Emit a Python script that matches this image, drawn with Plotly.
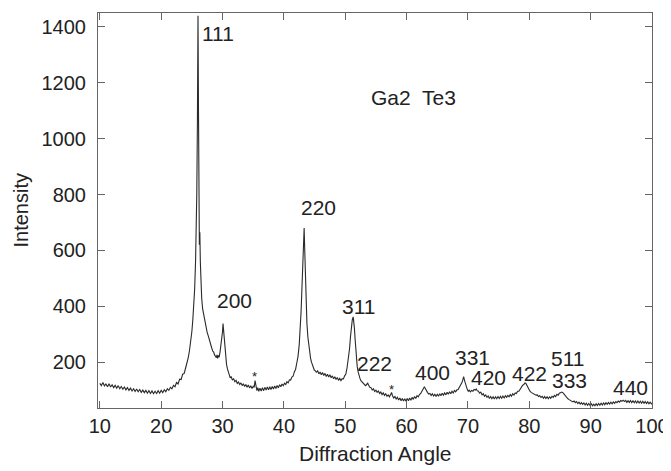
import plotly.graph_objects as go

# Diffraction angle (2-theta)
angle = [
    10, 10.25, 10.5, 10.75, 11, 11.25, 11.5, 11.75, 12, 12.25,
    12.5, 12.75, 13, 13.25, 13.5, 13.75, 14, 14.25, 14.5, 14.75,
    15, 15.25, 15.5, 15.75, 16, 16.25, 16.5, 16.75, 17, 17.25,
    17.5, 17.75, 18, 18.25, 18.5, 18.75, 19, 19.25, 19.5, 19.75,
    20, 20.25, 20.5, 20.75, 21, 21.25, 21.5, 21.75, 22,
    22.25, 22.5, 22.75, 23, 23.25, 23.5, 23.75, 24, 24.2, 24.4,
    24.6, 24.8, 25.0, 25.15, 25.3, 25.45, 25.6, 25.7, 25.8, 25.9,
    26.0, 26.08, 26.15, 26.22, 26.3, 26.38, 26.45, 26.6, 26.75, 26.9,
    27.05, 27.2, 27.35, 27.5, 27.65, 27.8, 27.95, 28.1, 28.25, 28.4,
    28.55, 28.7, 28.85, 29.0, 29.1, 29.2, 29.3, 29.45, 29.6, 29.75,
    29.9, 30.0, 30.08, 30.15, 30.25, 30.35, 30.5, 30.65, 30.8, 30.95,
    31.1, 31.25, 31.4, 31.6, 31.8, 32.0, 32.2, 32.4, 32.6, 32.8,
    33.0, 33.2, 33.4, 33.6, 33.8, 34.0, 34.2, 34.4, 34.6, 34.8,
    35.0, 35.15, 35.3, 35.45, 35.6, 35.75, 35.9, 36.1, 36.3, 36.5,
    36.7, 36.9, 37.1, 37.3, 37.5, 37.7, 37.9, 38.1, 38.3, 38.5,
    38.7, 38.9, 39.1, 39.3, 39.5, 39.7, 39.9, 40.1, 40.3, 40.5,
    40.7, 40.9, 41.1, 41.3, 41.5, 41.7, 41.9, 42.1, 42.3, 42.5,
    42.65, 42.8, 42.95, 43.1, 43.2, 43.3, 43.4, 43.5, 43.6, 43.75,
    43.9, 44.05, 44.2, 44.35, 44.5, 44.65, 44.8, 44.95, 45.1, 45.3,
    45.5, 45.7, 45.9, 46.1, 46.3, 46.5, 46.7, 46.9, 47.1, 47.3,
    47.5, 47.7, 47.9, 48.1, 48.3, 48.5, 48.7, 48.9, 49.1, 49.3,
    49.5, 49.7, 49.9, 50.1, 50.3, 50.5, 50.7, 50.85, 51.0, 51.15,
    51.3, 51.4, 51.5, 51.6, 51.7, 51.8, 51.95, 52.1, 52.25, 52.4,
    52.55, 52.7, 52.85, 53.0, 53.15, 53.3, 53.5, 53.65, 53.8, 54.0,
    54.2, 54.4, 54.6, 54.8, 55.0, 55.2, 55.4, 55.6, 55.8, 56.0,
    56.2, 56.4, 56.6, 56.8, 57.0, 57.2, 57.4, 57.55, 57.7, 57.9,
    58.1, 58.3, 58.5, 58.7, 58.9, 59.1, 59.3, 59.5, 59.7, 59.9,
    60.1, 60.3, 60.5, 60.7, 60.9, 61.1, 61.3, 61.5, 61.7, 61.9,
    62.1, 62.3, 62.5, 62.7, 62.9, 63.05, 63.2, 63.4, 63.6, 63.8,
    64.0, 64.2, 64.4, 64.6, 64.8, 65.0, 65.2, 65.4, 65.6, 65.8,
    66.0, 66.2, 66.4, 66.6, 66.8, 67.0, 67.2, 67.4, 67.6, 67.8,
    68.0, 68.2, 68.4, 68.6, 68.8, 69.0, 69.15, 69.3, 69.45, 69.6,
    69.75, 69.9, 70.05, 70.2, 70.4, 70.6, 70.8, 71.0, 71.2, 71.35,
    71.5, 71.7, 71.9, 72.1, 72.3, 72.5, 72.7, 72.9, 73.1, 73.3,
    73.5, 73.7, 73.9, 74.1, 74.3, 74.5, 74.7, 74.9, 75.1, 75.3,
    75.5, 75.7, 75.9, 76.1, 76.3, 76.5, 76.7, 76.9, 77.1, 77.3,
    77.5, 77.7, 77.9, 78.1, 78.3, 78.5, 78.7, 78.9, 79.1, 79.3,
    79.45, 79.6, 79.75, 79.9, 80.1, 80.3, 80.5, 80.7, 80.9, 81.1,
    81.3, 81.5, 81.7, 81.9, 82.1, 82.3, 82.5, 82.7, 82.9, 83.1,
    83.3, 83.5, 83.7, 83.9, 84.1, 84.3, 84.5, 84.7, 84.9, 85.1,
    85.3, 85.5, 85.7, 85.9, 86.1, 86.3, 86.5, 86.7, 86.9, 87.1,
    87.3, 87.5, 87.7, 87.9, 88.1, 88.3, 88.5, 88.7, 88.9, 89.1,
    89.3, 89.5, 89.7, 89.9, 90.1, 90.3, 90.5, 90.7, 90.9, 91.1,
    91.3, 91.5, 91.7, 91.9, 92.1, 92.3, 92.5, 92.7, 92.9, 93.1,
    93.3, 93.5, 93.7, 93.9, 94.1, 94.3, 94.5, 94.7, 94.9, 95.1,
    95.3, 95.5, 95.7, 95.9, 96.1, 96.3, 96.5, 96.7, 96.9, 97.1,
    97.3, 97.5, 97.7, 97.9, 98.1, 98.3, 98.5, 98.7, 98.9, 99.1,
    99.3, 99.5, 99.7, 99.9, 100,
]

# Intensity (same order as angle)
intensity = [
    124, 116, 127, 115, 122, 112, 123, 111, 119, 109,
    117, 107, 116, 105, 113, 103, 111, 101, 109, 99,
    107, 97, 105, 95, 104, 94, 102, 92, 100, 91,
    99, 89, 98, 88, 97, 87, 96, 88, 98, 89,
    99, 91, 101, 94, 105, 99, 110, 105, 117,
    112, 127, 122, 139, 138, 157, 160, 181, 194, 215,
    240, 270, 310, 350, 400, 460, 560, 650, 800, 1050,
    1440, 1100, 800, 620, 665, 560, 500, 430, 392, 375,
    350, 332, 318, 306, 296, 282, 270, 258, 250, 240,
    236, 226, 222, 216, 226, 214, 224, 218, 238, 260,
    290, 310, 338, 320, 290, 250, 212, 192, 176, 162,
    156, 144, 149, 136, 141, 130, 135, 124, 129, 120,
    126, 116, 123, 113, 120, 110, 118, 108, 116, 106,
    114, 110, 134, 120, 98, 109, 96, 107, 97, 109,
    98, 110, 100, 111, 101, 112, 102, 113, 104, 115,
    106, 117, 108, 119, 112, 122, 116, 125, 120, 130,
    126, 137, 136, 147, 150, 165, 174, 197, 220, 263,
    310, 380, 470, 580, 640, 680, 600, 500, 420, 340,
    292, 262, 236, 214, 200, 188, 182, 172, 170, 164,
    169, 158, 165, 155, 163, 152, 160, 149, 157, 147,
    155, 144, 151, 141, 148, 138, 145, 135, 142, 134,
    141, 140, 151, 158, 181, 208, 248, 290, 330, 352,
    362, 345, 320, 285, 245, 212, 185, 165, 150, 142,
    134, 130, 124, 122, 118, 116, 120, 126, 118, 110,
    109, 100, 105, 95, 100, 92, 97, 88, 93, 84,
    90, 81, 87, 78, 83, 76, 84, 92, 80, 72,
    77, 68, 74, 65, 72, 62, 70, 61, 69, 60,
    70, 62, 72, 64, 74, 67, 77, 70, 80, 76,
    84, 88, 96, 104, 112, 106, 98, 92, 86, 88,
    81, 87, 79, 85, 77, 85, 78, 87, 80, 89,
    82, 90, 83, 92, 85, 94, 87, 96, 90, 99,
    94, 101, 102, 109, 114, 126, 136, 148, 134, 120,
    108, 102, 96, 100, 94, 99, 96, 102, 100, 104,
    98, 96, 89, 93, 83, 87, 78, 83, 74, 79,
    70, 77, 69, 76, 68, 76, 69, 77, 70, 78,
    71, 79, 72, 80, 74, 81, 76, 84, 78, 87,
    82, 90, 88, 96, 96, 105, 108, 117, 120, 126,
    124, 116, 108, 100, 96, 92, 90, 86, 86, 82,
    83, 77, 80, 74, 78, 71, 77, 70, 76, 69,
    76, 71, 78, 74, 81, 77, 85, 82, 89, 90,
    93, 90, 84, 78, 74, 69, 66, 63, 62, 58,
    61, 55, 59, 52, 57, 50, 55, 49, 54, 47,
    53, 46, 52, 45, 51, 44, 50, 44, 51, 45,
    52, 46, 53, 47, 54, 48, 55, 49, 56, 50,
    57, 51, 58, 53, 59, 55, 61, 57, 63, 60,
    64, 59, 63, 56, 62, 56, 63, 55, 62, 55,
    61, 54, 61, 54, 60, 53, 60, 53, 59, 52,
    58, 51, 57, 51, 54,
]

# Peak labels (Miller indices), impurity markers and compound name
label_text = ["111", "200", "220", "311", "222", "400", "331", "420", "422", "511", "333", "440", "*", "*", "Ga2  Te3"]
label_x = [29.3, 32.0, 45.6, 52.1, 54.7, 64.2, 70.8, 73.3, 80.1, 86.3, 86.6, 96.5, 35.2, 57.5, 61.2]
label_y = [1377, 421, 754, 400, 196, 164, 218, 146, 161, 214, 136, 111, 150, 104, 1148]

x_ticks = [10, 20, 30, 40, 50, 60, 70, 80, 90, 100]
y_ticks = [200, 400, 600, 800, 1000, 1200, 1400]
x_title = "Diffraction Angle"
y_title = "Intensity"

FONT = "Liberation Sans, Arial, sans-serif"
TXT = "#222"

fig = go.Figure()
fig.add_trace(go.Scatter(x=angle, y=intensity, mode="lines",
                         line=dict(color="#2a2a2a", width=1.1), showlegend=False))

for t, xv, yv in zip(label_text, label_x, label_y):
    fig.add_annotation(x=xv, y=yv, text=t, showarrow=False,
                       font=dict(family=FONT, size=21 if t != "*" else 13, color=TXT),
                       xanchor="center", yanchor="middle")

# axis titles as paper annotations for exact placement
fig.add_annotation(xref="paper", yref="paper", x=0.5, y=0, yshift=-45, text=x_title,
                   showarrow=False, font=dict(family=FONT, size=21, color=TXT),
                   xanchor="center", yanchor="middle")
fig.add_annotation(xref="paper", yref="paper", x=0, y=0.5, xshift=-78, text=y_title,
                   textangle=-90, showarrow=False, font=dict(family=FONT, size=20, color=TXT),
                   xanchor="center", yanchor="middle")

axis_common = dict(showline=True, linecolor="#666", linewidth=1, mirror="ticks",
                   ticks="inside", ticklen=7, tickcolor="#666", showgrid=False, zeroline=False,
                   automargin=False, tickfont=dict(family=FONT, size=20, color=TXT))

fig.update_xaxes(range=[9.7, 100], tickvals=x_ticks, **axis_common)
fig.update_yaxes(range=[36, 1450], tickvals=y_ticks, ticklabelstandoff=7, **axis_common)

# the page body adds an 8px offset, so the figure is sized to fit the window
fig.update_layout(width=663, height=463, margin=dict(l=90, r=19, t=5, b=63),
                  plot_bgcolor="white", paper_bgcolor="white")

fig.write_html("out.html")
